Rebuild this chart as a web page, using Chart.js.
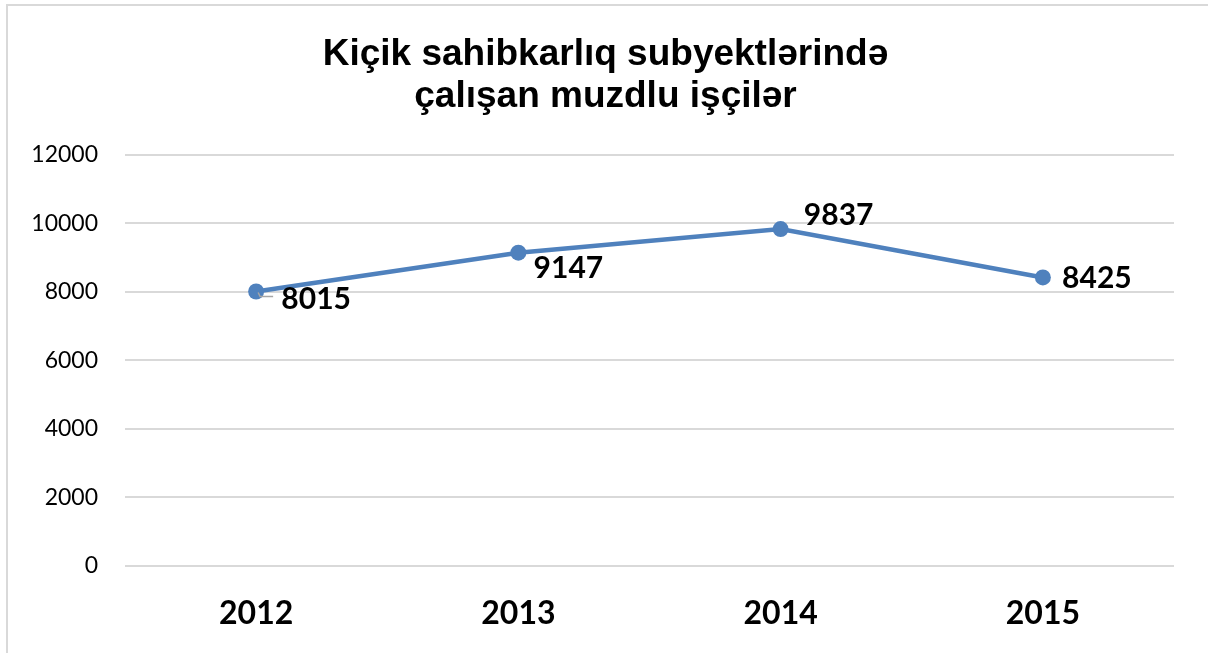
<!DOCTYPE html>
<html>
<head>
<meta charset="utf-8">
<script src="https://cdn.jsdelivr.net/npm/chart.js@4"></script>
<style>
  html, body { margin: 0; padding: 0; background: #fff; }
  #wrap { width: 1208px; height: 653px; position: relative; }
</style>
</head>
<body>
<div id="wrap"><canvas id="workersChart"></canvas></div>
<script>
// Illər və işçilərin sayı
var years = ['2012', '2013', '2014', '2015'];
var workers = [8015, 9147, 9837, 8425];
var titleLines = ['Kiçik sahibkarlıq subyektlərində', 'çalışan muzdlu işçilər'];

var lineColor = '#4F81BD';
var gridColor = '#D9D9D9';

// label offsets from each point (dx, dy), so the labels sit beside the line
var labelOffsets = [[60, 8], [50, 16], [58, -14], [54, 1]];

// draws the value labels and the little leader line of the first one
var valueLabels = {
  id: 'valueLabels',
  afterDatasetsDraw: function (chart) {
    var ctx = chart.ctx;
    var meta = chart.getDatasetMeta(0);
    ctx.save();
    ctx.font = 'bold 30px Lato';
    ctx.fillStyle = '#000';
    ctx.textAlign = 'center';
    ctx.textBaseline = 'middle';
    meta.data.forEach(function (pt, i) {
      var off = labelOffsets[i];
      ctx.fillText(String(workers[i]), pt.x + off[0], pt.y + off[1]);
    });
    // leader line for 8015
    var p0 = meta.data[0];
    ctx.strokeStyle = '#A6A6A6';
    ctx.lineWidth = 1.5;
    ctx.beginPath();
    ctx.moveTo(p0.x + 2, p0.y + 1);
    ctx.lineTo(p0.x + 4, p0.y + 5);
    ctx.lineTo(p0.x + 17, p0.y + 5);
    ctx.stroke();
    ctx.restore();
  }
};

// thin frame round the chart (top and left edges)
var frame = {
  id: 'frame',
  beforeDraw: function (chart) {
    var ctx = chart.ctx;
    ctx.save();
    ctx.strokeStyle = '#D9D9D9';
    ctx.lineWidth = 2;
    ctx.beginPath();
    ctx.moveTo(7, chart.height);
    ctx.lineTo(7, 5);
    ctx.lineTo(chart.width, 5);
    ctx.stroke();
    ctx.restore();
  }
};

new Chart(document.getElementById('workersChart'), {
  type: 'line',
  data: {
    labels: years,
    datasets: [{
      data: workers,
      borderColor: lineColor,
      backgroundColor: lineColor,
      borderWidth: 4.5,
      pointRadius: 8,
      pointHoverRadius: 8,
      pointBackgroundColor: lineColor,
      pointBorderColor: lineColor,
      pointBorderWidth: 0,
      tension: 0
    }]
  },
  options: {
    responsive: true,
    maintainAspectRatio: false,
    animation: false,
    layout: { padding: { left: 3, right: 0, top: 0, bottom: 0 } },
    scales: {
      x: {
        offset: true,
        grid: { display: false, drawTicks: false },
        border: { display: false },
        afterFit: function (scale) { scale.height = 87; },
        ticks: {
          color: '#000',
          padding: 28,
          font: { family: 'Lato', size: 32, weight: 'bold' }
        }
      },
      y: {
        min: 0,
        max: 12000,
        grid: { color: gridColor, lineWidth: 2, drawTicks: false },
        border: { display: false },
        afterFit: function (scale) { scale.width = 122; },
        ticks: {
          stepSize: 2000,
          color: '#000',
          padding: 27,
          font: { family: 'Lato', size: 23 },
          callback: function (v) { return String(v); }
        }
      },
      // empty right-hand strip
      yRight: {
        type: 'linear',
        position: 'right',
        display: true,
        grid: { display: false, drawTicks: false },
        border: { display: false },
        ticks: { display: false },
        afterFit: function (scale) { scale.width = 34; }
      }
    },
    plugins: {
      legend: { display: false },
      tooltip: { enabled: false },
      title: {
        display: true,
        text: titleLines,
        color: '#000',
        font: { family: 'Liberation Sans', size: 37, weight: 'bold', lineHeight: 1.135 },
        padding: { top: 34, bottom: 37 }
      }
    }
  },
  plugins: [frame, valueLabels]
});
</script>
</body>
</html>
